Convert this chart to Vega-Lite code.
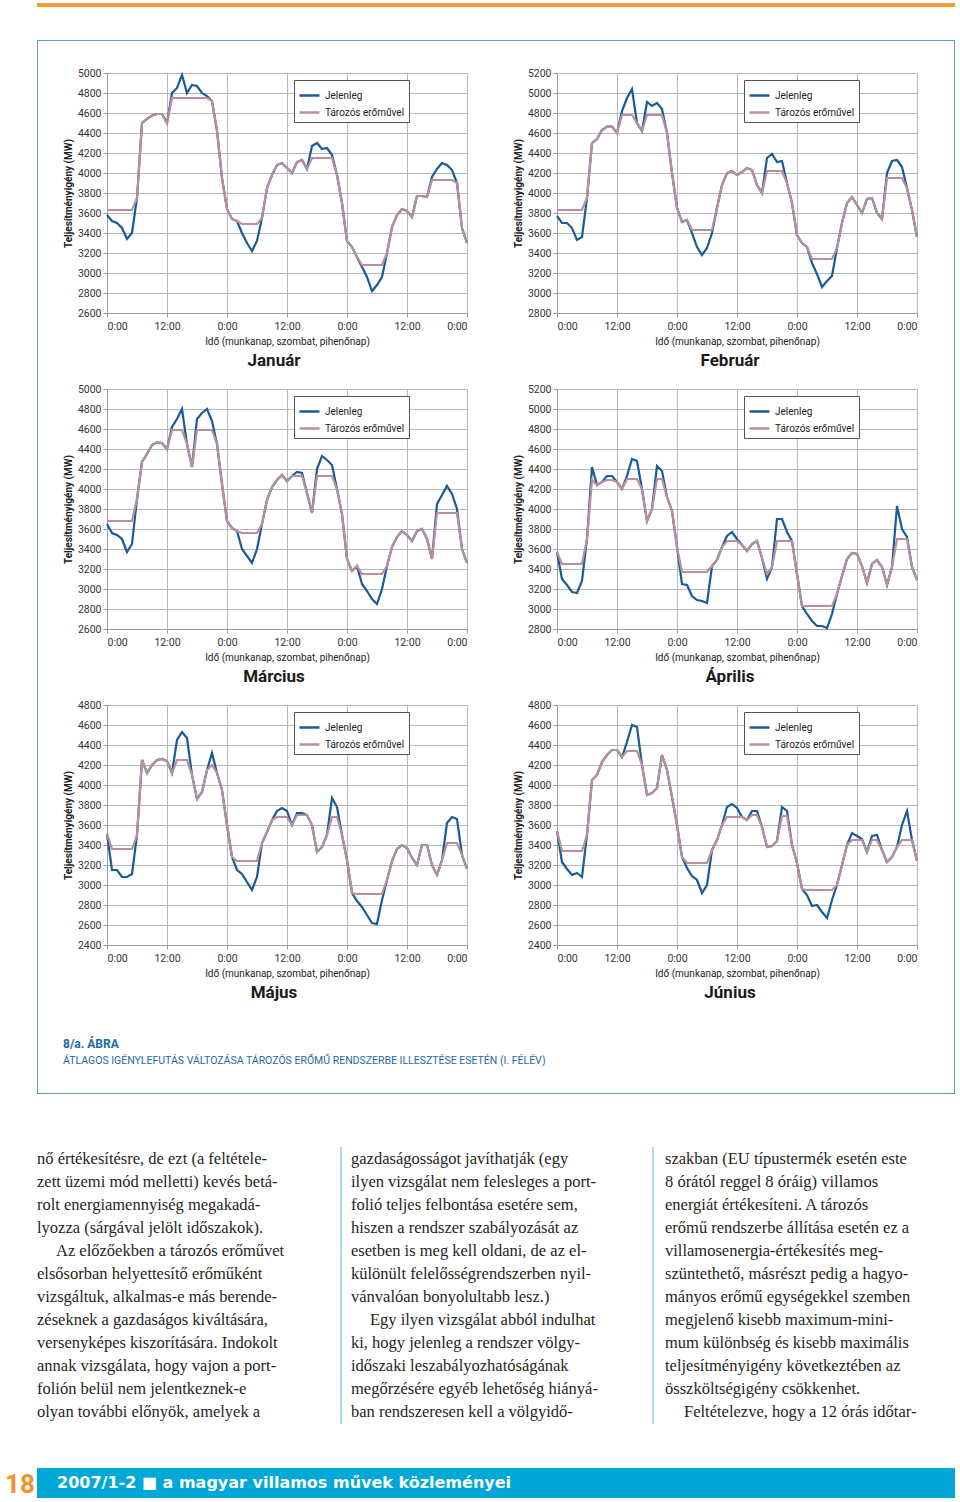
{
"$schema": "https://vega.github.io/schema/vega-lite/v6.json",
"padding": {"left": 5, "top": 3, "right": 0, "bottom": 0},
"background": "white",
"spacing": 0,
"config": {
 "view": {"stroke": null},
 "font": "Roboto",
 "axis": {"labelFontSize": 10.5, "labelColor": "#333333", "titleFontSize": 10, "titleColor": "#222222", "titleFontWeight": "normal", "gridColor": "#b8b8b8", "domainColor": "#9c9c9c", "tickColor": "#9c9c9c", "tickSize": 4},
 "axisX": {"labelPadding": 4.5, "titlePadding": 4},
 "axisY": {"labelPadding": 2, "titlePadding": 4, "titleFontWeight": "bold", "titleFontSize": 10, "format": "d"},
 "legend": {"orient": "none", "legendX": 187, "legendY": 7, "strokeColor": "#555555", "fillColor": "#ffffff", "padding": 4, "symbolSize": 400, "symbolStrokeWidth": 2.5, "labelFontSize": 10, "labelColor": "#222222", "rowPadding": 0},
 "title": {"font": "Roboto", "fontSize": 17, "fontWeight": "bold", "color": "#1a1a1a"}
},
"datasets": {
"load": [
{"m":"Jan","h":0,"j":3580,"t":3630},{"m":"Jan","h":1,"j":3520,"t":3630},{"m":"Jan","h":2,"j":3500,"t":3630},{"m":"Jan","h":3,"j":3450,"t":3630},{"m":"Jan","h":4,"j":3340,"t":3630},{"m":"Jan","h":5,"j":3400,"t":3630},{"m":"Jan","h":6,"j":3750,"t":3750},{"m":"Jan","h":7,"j":4500,"t":4500},{"m":"Jan","h":8,"j":4540,"t":4540},{"m":"Jan","h":9,"j":4575,"t":4575},{"m":"Jan","h":10,"j":4590,"t":4590},{"m":"Jan","h":11,"j":4590,"t":4590},{"m":"Jan","h":12,"j":4500,"t":4500},{"m":"Jan","h":13,"j":4800,"t":4750},{"m":"Jan","h":14,"j":4850,"t":4750},{"m":"Jan","h":15,"j":4980,"t":4750},{"m":"Jan","h":16,"j":4800,"t":4750},{"m":"Jan","h":17,"j":4880,"t":4750},{"m":"Jan","h":18,"j":4870,"t":4750},{"m":"Jan","h":19,"j":4800,"t":4750},{"m":"Jan","h":20,"j":4770,"t":4750},{"m":"Jan","h":21,"j":4720,"t":4720},{"m":"Jan","h":22,"j":4420,"t":4420},{"m":"Jan","h":23,"j":3950,"t":3950},{"m":"Jan","h":24,"j":3640,"t":3640},{"m":"Jan","h":25,"j":3540,"t":3540},{"m":"Jan","h":26,"j":3520,"t":3520},{"m":"Jan","h":27,"j":3400,"t":3490},{"m":"Jan","h":28,"j":3300,"t":3490},{"m":"Jan","h":29,"j":3220,"t":3490},{"m":"Jan","h":30,"j":3320,"t":3490},{"m":"Jan","h":31,"j":3550,"t":3550},{"m":"Jan","h":32,"j":3850,"t":3850},{"m":"Jan","h":33,"j":3980,"t":3980},{"m":"Jan","h":34,"j":4080,"t":4080},{"m":"Jan","h":35,"j":4100,"t":4100},{"m":"Jan","h":36,"j":4050,"t":4050},{"m":"Jan","h":37,"j":4000,"t":4000},{"m":"Jan","h":38,"j":4110,"t":4110},{"m":"Jan","h":39,"j":4130,"t":4130},{"m":"Jan","h":40,"j":4040,"t":4040},{"m":"Jan","h":41,"j":4270,"t":4150},{"m":"Jan","h":42,"j":4300,"t":4150},{"m":"Jan","h":43,"j":4240,"t":4150},{"m":"Jan","h":44,"j":4250,"t":4150},{"m":"Jan","h":45,"j":4180,"t":4150},{"m":"Jan","h":46,"j":3980,"t":3980},{"m":"Jan","h":47,"j":3700,"t":3700},{"m":"Jan","h":48,"j":3320,"t":3320},{"m":"Jan","h":49,"j":3260,"t":3260},{"m":"Jan","h":50,"j":3160,"t":3160},{"m":"Jan","h":51,"j":3060,"t":3080},{"m":"Jan","h":52,"j":2960,"t":3080},{"m":"Jan","h":53,"j":2820,"t":3080},{"m":"Jan","h":54,"j":2880,"t":3080},{"m":"Jan","h":55,"j":2960,"t":3080},{"m":"Jan","h":56,"j":3200,"t":3200},{"m":"Jan","h":57,"j":3460,"t":3460},{"m":"Jan","h":58,"j":3580,"t":3580},{"m":"Jan","h":59,"j":3640,"t":3640},{"m":"Jan","h":60,"j":3620,"t":3620},{"m":"Jan","h":61,"j":3560,"t":3560},{"m":"Jan","h":62,"j":3770,"t":3770},{"m":"Jan","h":63,"j":3770,"t":3770},{"m":"Jan","h":64,"j":3760,"t":3760},{"m":"Jan","h":65,"j":3960,"t":3930},{"m":"Jan","h":66,"j":4040,"t":3930},{"m":"Jan","h":67,"j":4100,"t":3930},{"m":"Jan","h":68,"j":4080,"t":3930},{"m":"Jan","h":69,"j":4030,"t":3930},{"m":"Jan","h":70,"j":3900,"t":3900},{"m":"Jan","h":71,"j":3450,"t":3450},{"m":"Jan","h":72,"j":3300,"t":3300},
{"m":"Feb","h":0,"j":3770,"t":3830},{"m":"Feb","h":1,"j":3700,"t":3830},{"m":"Feb","h":2,"j":3700,"t":3830},{"m":"Feb","h":3,"j":3650,"t":3830},{"m":"Feb","h":4,"j":3530,"t":3830},{"m":"Feb","h":5,"j":3560,"t":3830},{"m":"Feb","h":6,"j":3950,"t":3950},{"m":"Feb","h":7,"j":4500,"t":4500},{"m":"Feb","h":8,"j":4540,"t":4540},{"m":"Feb","h":9,"j":4630,"t":4630},{"m":"Feb","h":10,"j":4665,"t":4665},{"m":"Feb","h":11,"j":4665,"t":4665},{"m":"Feb","h":12,"j":4600,"t":4600},{"m":"Feb","h":13,"j":4820,"t":4780},{"m":"Feb","h":14,"j":4950,"t":4780},{"m":"Feb","h":15,"j":5040,"t":4780},{"m":"Feb","h":16,"j":4700,"t":4700},{"m":"Feb","h":17,"j":4620,"t":4620},{"m":"Feb","h":18,"j":4910,"t":4780},{"m":"Feb","h":19,"j":4870,"t":4780},{"m":"Feb","h":20,"j":4900,"t":4780},{"m":"Feb","h":21,"j":4840,"t":4780},{"m":"Feb","h":22,"j":4600,"t":4600},{"m":"Feb","h":23,"j":4200,"t":4200},{"m":"Feb","h":24,"j":3850,"t":3850},{"m":"Feb","h":25,"j":3710,"t":3710},{"m":"Feb","h":26,"j":3730,"t":3730},{"m":"Feb","h":27,"j":3600,"t":3630},{"m":"Feb","h":28,"j":3460,"t":3630},{"m":"Feb","h":29,"j":3380,"t":3630},{"m":"Feb","h":30,"j":3450,"t":3630},{"m":"Feb","h":31,"j":3600,"t":3630},{"m":"Feb","h":32,"j":3850,"t":3850},{"m":"Feb","h":33,"j":4080,"t":4080},{"m":"Feb","h":34,"j":4200,"t":4200},{"m":"Feb","h":35,"j":4220,"t":4220},{"m":"Feb","h":36,"j":4180,"t":4180},{"m":"Feb","h":37,"j":4210,"t":4210},{"m":"Feb","h":38,"j":4250,"t":4250},{"m":"Feb","h":39,"j":4230,"t":4230},{"m":"Feb","h":40,"j":4080,"t":4080},{"m":"Feb","h":41,"j":4000,"t":4000},{"m":"Feb","h":42,"j":4350,"t":4220},{"m":"Feb","h":43,"j":4390,"t":4220},{"m":"Feb","h":44,"j":4310,"t":4220},{"m":"Feb","h":45,"j":4320,"t":4220},{"m":"Feb","h":46,"j":4100,"t":4100},{"m":"Feb","h":47,"j":3900,"t":3900},{"m":"Feb","h":48,"j":3580,"t":3580},{"m":"Feb","h":49,"j":3500,"t":3500},{"m":"Feb","h":50,"j":3460,"t":3460},{"m":"Feb","h":51,"j":3300,"t":3340},{"m":"Feb","h":52,"j":3190,"t":3340},{"m":"Feb","h":53,"j":3060,"t":3340},{"m":"Feb","h":54,"j":3120,"t":3340},{"m":"Feb","h":55,"j":3170,"t":3340},{"m":"Feb","h":56,"j":3450,"t":3450},{"m":"Feb","h":57,"j":3700,"t":3700},{"m":"Feb","h":58,"j":3900,"t":3900},{"m":"Feb","h":59,"j":3960,"t":3960},{"m":"Feb","h":60,"j":3880,"t":3880},{"m":"Feb","h":61,"j":3800,"t":3800},{"m":"Feb","h":62,"j":3940,"t":3940},{"m":"Feb","h":63,"j":3950,"t":3950},{"m":"Feb","h":64,"j":3800,"t":3800},{"m":"Feb","h":65,"j":3740,"t":3740},{"m":"Feb","h":66,"j":4200,"t":4150},{"m":"Feb","h":67,"j":4320,"t":4150},{"m":"Feb","h":68,"j":4330,"t":4150},{"m":"Feb","h":69,"j":4260,"t":4150},{"m":"Feb","h":70,"j":4050,"t":4050},{"m":"Feb","h":71,"j":3830,"t":3830},{"m":"Feb","h":72,"j":3560,"t":3560},
{"m":"Mar","h":0,"j":3650,"t":3680},{"m":"Mar","h":1,"j":3560,"t":3680},{"m":"Mar","h":2,"j":3540,"t":3680},{"m":"Mar","h":3,"j":3500,"t":3680},{"m":"Mar","h":4,"j":3370,"t":3680},{"m":"Mar","h":5,"j":3450,"t":3680},{"m":"Mar","h":6,"j":3900,"t":3900},{"m":"Mar","h":7,"j":4270,"t":4270},{"m":"Mar","h":8,"j":4350,"t":4350},{"m":"Mar","h":9,"j":4440,"t":4440},{"m":"Mar","h":10,"j":4465,"t":4465},{"m":"Mar","h":11,"j":4460,"t":4460},{"m":"Mar","h":12,"j":4400,"t":4400},{"m":"Mar","h":13,"j":4620,"t":4590},{"m":"Mar","h":14,"j":4700,"t":4590},{"m":"Mar","h":15,"j":4800,"t":4590},{"m":"Mar","h":16,"j":4450,"t":4450},{"m":"Mar","h":17,"j":4220,"t":4220},{"m":"Mar","h":18,"j":4700,"t":4590},{"m":"Mar","h":19,"j":4760,"t":4590},{"m":"Mar","h":20,"j":4800,"t":4590},{"m":"Mar","h":21,"j":4680,"t":4590},{"m":"Mar","h":22,"j":4450,"t":4450},{"m":"Mar","h":23,"j":4050,"t":4050},{"m":"Mar","h":24,"j":3680,"t":3680},{"m":"Mar","h":25,"j":3610,"t":3610},{"m":"Mar","h":26,"j":3580,"t":3580},{"m":"Mar","h":27,"j":3400,"t":3560},{"m":"Mar","h":28,"j":3330,"t":3560},{"m":"Mar","h":29,"j":3260,"t":3560},{"m":"Mar","h":30,"j":3400,"t":3560},{"m":"Mar","h":31,"j":3650,"t":3650},{"m":"Mar","h":32,"j":3890,"t":3890},{"m":"Mar","h":33,"j":4020,"t":4020},{"m":"Mar","h":34,"j":4090,"t":4090},{"m":"Mar","h":35,"j":4140,"t":4140},{"m":"Mar","h":36,"j":4080,"t":4080},{"m":"Mar","h":37,"j":4130,"t":4130},{"m":"Mar","h":38,"j":4170,"t":4130},{"m":"Mar","h":39,"j":4160,"t":4130},{"m":"Mar","h":40,"j":3960,"t":3960},{"m":"Mar","h":41,"j":3760,"t":3760},{"m":"Mar","h":42,"j":4200,"t":4130},{"m":"Mar","h":43,"j":4330,"t":4130},{"m":"Mar","h":44,"j":4290,"t":4130},{"m":"Mar","h":45,"j":4240,"t":4130},{"m":"Mar","h":46,"j":4000,"t":4000},{"m":"Mar","h":47,"j":3750,"t":3750},{"m":"Mar","h":48,"j":3300,"t":3300},{"m":"Mar","h":49,"j":3180,"t":3180},{"m":"Mar","h":50,"j":3230,"t":3230},{"m":"Mar","h":51,"j":3050,"t":3150},{"m":"Mar","h":52,"j":2980,"t":3150},{"m":"Mar","h":53,"j":2900,"t":3150},{"m":"Mar","h":54,"j":2850,"t":3150},{"m":"Mar","h":55,"j":3000,"t":3150},{"m":"Mar","h":56,"j":3230,"t":3230},{"m":"Mar","h":57,"j":3420,"t":3420},{"m":"Mar","h":58,"j":3520,"t":3520},{"m":"Mar","h":59,"j":3580,"t":3580},{"m":"Mar","h":60,"j":3540,"t":3540},{"m":"Mar","h":61,"j":3480,"t":3480},{"m":"Mar","h":62,"j":3580,"t":3580},{"m":"Mar","h":63,"j":3600,"t":3600},{"m":"Mar","h":64,"j":3500,"t":3500},{"m":"Mar","h":65,"j":3300,"t":3300},{"m":"Mar","h":66,"j":3850,"t":3760},{"m":"Mar","h":67,"j":3940,"t":3760},{"m":"Mar","h":68,"j":4030,"t":3760},{"m":"Mar","h":69,"j":3950,"t":3760},{"m":"Mar","h":70,"j":3800,"t":3760},{"m":"Mar","h":71,"j":3400,"t":3400},{"m":"Mar","h":72,"j":3260,"t":3260},
{"m":"Apr","h":0,"j":3570,"t":3570},{"m":"Apr","h":1,"j":3300,"t":3450},{"m":"Apr","h":2,"j":3240,"t":3450},{"m":"Apr","h":3,"j":3170,"t":3450},{"m":"Apr","h":4,"j":3160,"t":3450},{"m":"Apr","h":5,"j":3280,"t":3450},{"m":"Apr","h":6,"j":3700,"t":3700},{"m":"Apr","h":7,"j":4420,"t":4290},{"m":"Apr","h":8,"j":4240,"t":4240},{"m":"Apr","h":9,"j":4270,"t":4270},{"m":"Apr","h":10,"j":4330,"t":4290},{"m":"Apr","h":11,"j":4330,"t":4290},{"m":"Apr","h":12,"j":4270,"t":4270},{"m":"Apr","h":13,"j":4200,"t":4200},{"m":"Apr","h":14,"j":4330,"t":4300},{"m":"Apr","h":15,"j":4500,"t":4300},{"m":"Apr","h":16,"j":4480,"t":4300},{"m":"Apr","h":17,"j":4200,"t":4200},{"m":"Apr","h":18,"j":3880,"t":3880},{"m":"Apr","h":19,"j":4000,"t":4000},{"m":"Apr","h":20,"j":4430,"t":4300},{"m":"Apr","h":21,"j":4380,"t":4300},{"m":"Apr","h":22,"j":4120,"t":4120},{"m":"Apr","h":23,"j":3980,"t":3980},{"m":"Apr","h":24,"j":3620,"t":3620},{"m":"Apr","h":25,"j":3250,"t":3370},{"m":"Apr","h":26,"j":3240,"t":3370},{"m":"Apr","h":27,"j":3130,"t":3370},{"m":"Apr","h":28,"j":3090,"t":3370},{"m":"Apr","h":29,"j":3080,"t":3370},{"m":"Apr","h":30,"j":3060,"t":3370},{"m":"Apr","h":31,"j":3430,"t":3430},{"m":"Apr","h":32,"j":3490,"t":3490},{"m":"Apr","h":33,"j":3620,"t":3620},{"m":"Apr","h":34,"j":3730,"t":3680},{"m":"Apr","h":35,"j":3770,"t":3680},{"m":"Apr","h":36,"j":3700,"t":3680},{"m":"Apr","h":37,"j":3640,"t":3640},{"m":"Apr","h":38,"j":3580,"t":3580},{"m":"Apr","h":39,"j":3650,"t":3650},{"m":"Apr","h":40,"j":3680,"t":3680},{"m":"Apr","h":41,"j":3510,"t":3510},{"m":"Apr","h":42,"j":3300,"t":3350},{"m":"Apr","h":43,"j":3420,"t":3420},{"m":"Apr","h":44,"j":3900,"t":3680},{"m":"Apr","h":45,"j":3900,"t":3680},{"m":"Apr","h":46,"j":3770,"t":3680},{"m":"Apr","h":47,"j":3680,"t":3680},{"m":"Apr","h":48,"j":3350,"t":3350},{"m":"Apr","h":49,"j":3030,"t":3030},{"m":"Apr","h":50,"j":2950,"t":3030},{"m":"Apr","h":51,"j":2880,"t":3030},{"m":"Apr","h":52,"j":2830,"t":3030},{"m":"Apr","h":53,"j":2830,"t":3030},{"m":"Apr","h":54,"j":2810,"t":3030},{"m":"Apr","h":55,"j":2950,"t":3030},{"m":"Apr","h":56,"j":3150,"t":3150},{"m":"Apr","h":57,"j":3330,"t":3330},{"m":"Apr","h":58,"j":3500,"t":3500},{"m":"Apr","h":59,"j":3560,"t":3560},{"m":"Apr","h":60,"j":3550,"t":3550},{"m":"Apr","h":61,"j":3430,"t":3430},{"m":"Apr","h":62,"j":3260,"t":3260},{"m":"Apr","h":63,"j":3450,"t":3450},{"m":"Apr","h":64,"j":3490,"t":3490},{"m":"Apr","h":65,"j":3420,"t":3420},{"m":"Apr","h":66,"j":3240,"t":3240},{"m":"Apr","h":67,"j":3420,"t":3420},{"m":"Apr","h":68,"j":4030,"t":3700},{"m":"Apr","h":69,"j":3800,"t":3700},{"m":"Apr","h":70,"j":3720,"t":3700},{"m":"Apr","h":71,"j":3420,"t":3420},{"m":"Apr","h":72,"j":3290,"t":3290},
{"m":"May","h":0,"j":3510,"t":3510},{"m":"May","h":1,"j":3150,"t":3360},{"m":"May","h":2,"j":3150,"t":3360},{"m":"May","h":3,"j":3080,"t":3360},{"m":"May","h":4,"j":3080,"t":3360},{"m":"May","h":5,"j":3110,"t":3360},{"m":"May","h":6,"j":3500,"t":3500},{"m":"May","h":7,"j":4250,"t":4250},{"m":"May","h":8,"j":4120,"t":4120},{"m":"May","h":9,"j":4200,"t":4200},{"m":"May","h":10,"j":4250,"t":4250},{"m":"May","h":11,"j":4260,"t":4260},{"m":"May","h":12,"j":4240,"t":4240},{"m":"May","h":13,"j":4120,"t":4120},{"m":"May","h":14,"j":4450,"t":4250},{"m":"May","h":15,"j":4530,"t":4250},{"m":"May","h":16,"j":4470,"t":4250},{"m":"May","h":17,"j":4100,"t":4100},{"m":"May","h":18,"j":3860,"t":3860},{"m":"May","h":19,"j":3930,"t":3930},{"m":"May","h":20,"j":4150,"t":4150},{"m":"May","h":21,"j":4320,"t":4200},{"m":"May","h":22,"j":4120,"t":4120},{"m":"May","h":23,"j":3950,"t":3950},{"m":"May","h":24,"j":3600,"t":3600},{"m":"May","h":25,"j":3280,"t":3280},{"m":"May","h":26,"j":3150,"t":3240},{"m":"May","h":27,"j":3110,"t":3240},{"m":"May","h":28,"j":3030,"t":3240},{"m":"May","h":29,"j":2950,"t":3240},{"m":"May","h":30,"j":3080,"t":3240},{"m":"May","h":31,"j":3420,"t":3420},{"m":"May","h":32,"j":3530,"t":3530},{"m":"May","h":33,"j":3650,"t":3650},{"m":"May","h":34,"j":3740,"t":3680},{"m":"May","h":35,"j":3770,"t":3680},{"m":"May","h":36,"j":3740,"t":3680},{"m":"May","h":37,"j":3600,"t":3600},{"m":"May","h":38,"j":3720,"t":3700},{"m":"May","h":39,"j":3720,"t":3700},{"m":"May","h":40,"j":3700,"t":3700},{"m":"May","h":41,"j":3600,"t":3600},{"m":"May","h":42,"j":3330,"t":3330},{"m":"May","h":43,"j":3380,"t":3380},{"m":"May","h":44,"j":3500,"t":3500},{"m":"May","h":45,"j":3870,"t":3680},{"m":"May","h":46,"j":3780,"t":3680},{"m":"May","h":47,"j":3500,"t":3500},{"m":"May","h":48,"j":3250,"t":3250},{"m":"May","h":49,"j":2920,"t":2920},{"m":"May","h":50,"j":2840,"t":2910},{"m":"May","h":51,"j":2780,"t":2910},{"m":"May","h":52,"j":2700,"t":2910},{"m":"May","h":53,"j":2620,"t":2910},{"m":"May","h":54,"j":2610,"t":2910},{"m":"May","h":55,"j":2850,"t":2910},{"m":"May","h":56,"j":3050,"t":3050},{"m":"May","h":57,"j":3240,"t":3240},{"m":"May","h":58,"j":3360,"t":3360},{"m":"May","h":59,"j":3400,"t":3400},{"m":"May","h":60,"j":3370,"t":3370},{"m":"May","h":61,"j":3270,"t":3270},{"m":"May","h":62,"j":3200,"t":3200},{"m":"May","h":63,"j":3400,"t":3400},{"m":"May","h":64,"j":3400,"t":3400},{"m":"May","h":65,"j":3200,"t":3200},{"m":"May","h":66,"j":3100,"t":3100},{"m":"May","h":67,"j":3250,"t":3250},{"m":"May","h":68,"j":3620,"t":3420},{"m":"May","h":69,"j":3680,"t":3420},{"m":"May","h":70,"j":3660,"t":3420},{"m":"May","h":71,"j":3300,"t":3300},{"m":"May","h":72,"j":3160,"t":3160},
{"m":"Jun","h":0,"j":3540,"t":3540},{"m":"Jun","h":1,"j":3230,"t":3340},{"m":"Jun","h":2,"j":3160,"t":3340},{"m":"Jun","h":3,"j":3100,"t":3340},{"m":"Jun","h":4,"j":3120,"t":3340},{"m":"Jun","h":5,"j":3080,"t":3340},{"m":"Jun","h":6,"j":3500,"t":3500},{"m":"Jun","h":7,"j":4050,"t":4050},{"m":"Jun","h":8,"j":4100,"t":4100},{"m":"Jun","h":9,"j":4230,"t":4230},{"m":"Jun","h":10,"j":4300,"t":4300},{"m":"Jun","h":11,"j":4350,"t":4350},{"m":"Jun","h":12,"j":4350,"t":4350},{"m":"Jun","h":13,"j":4280,"t":4280},{"m":"Jun","h":14,"j":4430,"t":4340},{"m":"Jun","h":15,"j":4600,"t":4340},{"m":"Jun","h":16,"j":4580,"t":4340},{"m":"Jun","h":17,"j":4200,"t":4200},{"m":"Jun","h":18,"j":3900,"t":3900},{"m":"Jun","h":19,"j":3920,"t":3920},{"m":"Jun","h":20,"j":3970,"t":3970},{"m":"Jun","h":21,"j":4300,"t":4300},{"m":"Jun","h":22,"j":4150,"t":4150},{"m":"Jun","h":23,"j":3880,"t":3880},{"m":"Jun","h":24,"j":3600,"t":3600},{"m":"Jun","h":25,"j":3280,"t":3280},{"m":"Jun","h":26,"j":3170,"t":3220},{"m":"Jun","h":27,"j":3090,"t":3220},{"m":"Jun","h":28,"j":3050,"t":3220},{"m":"Jun","h":29,"j":2920,"t":3220},{"m":"Jun","h":30,"j":3000,"t":3220},{"m":"Jun","h":31,"j":3350,"t":3350},{"m":"Jun","h":32,"j":3450,"t":3450},{"m":"Jun","h":33,"j":3600,"t":3600},{"m":"Jun","h":34,"j":3780,"t":3680},{"m":"Jun","h":35,"j":3810,"t":3680},{"m":"Jun","h":36,"j":3770,"t":3680},{"m":"Jun","h":37,"j":3680,"t":3680},{"m":"Jun","h":38,"j":3650,"t":3650},{"m":"Jun","h":39,"j":3740,"t":3700},{"m":"Jun","h":40,"j":3740,"t":3700},{"m":"Jun","h":41,"j":3580,"t":3580},{"m":"Jun","h":42,"j":3380,"t":3380},{"m":"Jun","h":43,"j":3390,"t":3390},{"m":"Jun","h":44,"j":3440,"t":3440},{"m":"Jun","h":45,"j":3780,"t":3690},{"m":"Jun","h":46,"j":3740,"t":3690},{"m":"Jun","h":47,"j":3400,"t":3400},{"m":"Jun","h":48,"j":3220,"t":3220},{"m":"Jun","h":49,"j":2960,"t":2960},{"m":"Jun","h":50,"j":2900,"t":2950},{"m":"Jun","h":51,"j":2790,"t":2950},{"m":"Jun","h":52,"j":2800,"t":2950},{"m":"Jun","h":53,"j":2730,"t":2950},{"m":"Jun","h":54,"j":2670,"t":2950},{"m":"Jun","h":55,"j":2850,"t":2950},{"m":"Jun","h":56,"j":3000,"t":3000},{"m":"Jun","h":57,"j":3200,"t":3200},{"m":"Jun","h":58,"j":3400,"t":3400},{"m":"Jun","h":59,"j":3520,"t":3450},{"m":"Jun","h":60,"j":3490,"t":3450},{"m":"Jun","h":61,"j":3460,"t":3450},{"m":"Jun","h":62,"j":3330,"t":3330},{"m":"Jun","h":63,"j":3490,"t":3450},{"m":"Jun","h":64,"j":3500,"t":3450},{"m":"Jun","h":65,"j":3350,"t":3350},{"m":"Jun","h":66,"j":3230,"t":3230},{"m":"Jun","h":67,"j":3280,"t":3280},{"m":"Jun","h":68,"j":3380,"t":3380},{"m":"Jun","h":69,"j":3600,"t":3450},{"m":"Jun","h":70,"j":3740,"t":3450},{"m":"Jun","h":71,"j":3450,"t":3450},{"m":"Jun","h":72,"j":3240,"t":3240}
],
"body": [
{"c":1,"i":0,"p":0,"s":"nő értékesítésre, de ezt (a feltétele-"},
{"c":1,"i":1,"p":0,"s":"zett üzemi mód melletti) kevés betá-"},
{"c":1,"i":2,"p":0,"s":"rolt energiamennyiség megakadá-"},
{"c":1,"i":3,"p":0,"s":"lyozza (sárgával jelölt időszakok)."},
{"c":1,"i":4,"p":1,"s":"Az előzőekben a tározós erőművet"},
{"c":1,"i":5,"p":0,"s":"elsősorban helyettesítő erőműként"},
{"c":1,"i":6,"p":0,"s":"vizsgáltuk, alkalmas-e más berende-"},
{"c":1,"i":7,"p":0,"s":"zéseknek a gazdaságos kiváltására,"},
{"c":1,"i":8,"p":0,"s":"versenyképes kiszorítására. Indokolt"},
{"c":1,"i":9,"p":0,"s":"annak vizsgálata, hogy vajon a port-"},
{"c":1,"i":10,"p":0,"s":"folión belül nem jelentkeznek-e"},
{"c":1,"i":11,"p":0,"s":"olyan további előnyök, amelyek a"},
{"c":2,"i":0,"p":0,"s":"gazdaságosságot javíthatják (egy"},
{"c":2,"i":1,"p":0,"s":"ilyen vizsgálat nem felesleges a port-"},
{"c":2,"i":2,"p":0,"s":"folió teljes felbontása esetére sem,"},
{"c":2,"i":3,"p":0,"s":"hiszen a rendszer szabályozását az"},
{"c":2,"i":4,"p":0,"s":"esetben is meg kell oldani, de az el-"},
{"c":2,"i":5,"p":0,"s":"különült felelősségrendszerben nyil-"},
{"c":2,"i":6,"p":0,"s":"vánvalóan bonyolultabb lesz.)"},
{"c":2,"i":7,"p":1,"s":"Egy ilyen vizsgálat abból indulhat"},
{"c":2,"i":8,"p":0,"s":"ki, hogy jelenleg a rendszer völgy-"},
{"c":2,"i":9,"p":0,"s":"időszaki leszabályozhatóságának"},
{"c":2,"i":10,"p":0,"s":"megőrzésére egyéb lehetőség hiányá-"},
{"c":2,"i":11,"p":0,"s":"ban rendszeresen kell a völgyidő-"},
{"c":3,"i":0,"p":0,"s":"szakban (EU típustermék esetén este"},
{"c":3,"i":1,"p":0,"s":"8 órától reggel 8 óráig) villamos"},
{"c":3,"i":2,"p":0,"s":"energiát értékesíteni. A tározós"},
{"c":3,"i":3,"p":0,"s":"erőmű rendszerbe állítása esetén ez a"},
{"c":3,"i":4,"p":0,"s":"villamosenergia-értékesítés meg-"},
{"c":3,"i":5,"p":0,"s":"szüntethető, másrészt pedig a hagyo-"},
{"c":3,"i":6,"p":0,"s":"mányos erőmű egységekkel szemben"},
{"c":3,"i":7,"p":0,"s":"megjelenő kisebb maximum-mini-"},
{"c":3,"i":8,"p":0,"s":"mum különbség és kisebb maximális"},
{"c":3,"i":9,"p":0,"s":"teljesítményigény következtében az"},
{"c":3,"i":10,"p":0,"s":"összköltségigény csökkenhet."},
{"c":3,"i":11,"p":1,"s":"Feltételezve, hogy a 12 órás időtar-"}
]
},
"vconcat": [
 {"hconcat": [
   {"width": 32, "height": 4, "data": {"values": [{}]}, "mark": {"type": "rect", "opacity": 0}},
   {"width": 918, "height": 4, "data": {"values": [{}]}, "mark": {"type": "rect", "color": "#f39a36"}}
  ], "spacing": 0},
 {"width": 1, "height": 33, "data": {"values": [{}]}, "mark": {"type": "rect", "opacity": 0}},
 {"hconcat": [
   {"width": 32, "height": 1, "data": {"values": [{}]}, "mark": {"type": "rect", "opacity": 0}},
   {"width": 918, "height": 1, "data": {"values": [{}]}, "mark": {"type": "rect", "color": "#5f9cb5"}}
  ], "spacing": 0},
 {"hconcat": [
   {"width": 32, "height": 1, "data": {"values": [{}]}, "mark": {"type": "rect", "opacity": 0}},
   {"width": 1, "height": 1052, "data": {"values": [{}]}, "mark": {"type": "rect", "color": "#5f9cb5"}},
   {"vconcat": [
     {"width": 916, "height": 26.5, "data": {"values": [{}]}, "mark": {"type": "rect", "opacity": 0}},
     {"hconcat": [
       {"width": 24.5, "height": 1, "data": {"values": [{}]}, "mark": {"type": "rect", "opacity": 0}},
       {"columns": 2, "spacing": {"row": 76, "column": 90}, "bounds": "flush",
        "resolve": {"scale": {"color": "independent"}, "legend": {"color": "independent"}},
        "concat": [
         {"width": 360, "height": 240, "data": {"name": "load"}, "transform": [{"filter": "datum.m == 'Jan'"}],
          "title": {"text": "Január", "orient": "bottom", "offset": 6.5, "dx": -13},
          "encoding": {"x": {"field": "h", "type": "quantitative", "title": "Idő (munkanap, szombat, pihenőnap)", "scale": {"domain": [0, 72], "nice": false}, "axis": {"values": [0, 12, 24, 36, 48, 60, 72], "labelExpr": "datum.value % 24 == 0 ? '0:00' : '12:00'"}}},
          "layer": [
           {"mark": {"type": "line", "strokeWidth": 2.2}, "encoding": {"y": {"field": "j", "type": "quantitative", "title": "Teljesítményigény (MW)", "scale": {"domain": [2600, 5000], "nice": false, "zero": false}, "axis": {"tickCount": 12}}, "color": {"datum": "Jelenleg", "type": "nominal", "scale": {"domain": ["Jelenleg", "Tározós erőművel"], "range": ["#185b97", "#b98fa0"]}, "legend": {"title": null}}}},
           {"mark": {"type": "line", "strokeWidth": 2.2}, "encoding": {"y": {"field": "t", "type": "quantitative", "title": "Teljesítményigény (MW)"}, "color": {"datum": "Tározós erőművel", "type": "nominal"}}}
          ]},
         {"width": 360, "height": 240, "data": {"name": "load"}, "transform": [{"filter": "datum.m == 'Feb'"}],
          "title": {"text": "Február", "orient": "bottom", "offset": 6.5, "dx": -7},
          "encoding": {"x": {"field": "h", "type": "quantitative", "title": "Idő (munkanap, szombat, pihenőnap)", "scale": {"domain": [0, 72], "nice": false}, "axis": {"values": [0, 12, 24, 36, 48, 60, 72], "labelExpr": "datum.value % 24 == 0 ? '0:00' : '12:00'"}}},
          "layer": [
           {"mark": {"type": "line", "strokeWidth": 2.2}, "encoding": {"y": {"field": "j", "type": "quantitative", "title": "Teljesítményigény (MW)", "scale": {"domain": [2800, 5200], "nice": false, "zero": false}, "axis": {"tickCount": 12}}, "color": {"datum": "Jelenleg", "type": "nominal", "scale": {"domain": ["Jelenleg", "Tározós erőművel"], "range": ["#185b97", "#b98fa0"]}, "legend": {"title": null}}}},
           {"mark": {"type": "line", "strokeWidth": 2.2}, "encoding": {"y": {"field": "t", "type": "quantitative", "title": "Teljesítményigény (MW)"}, "color": {"datum": "Tározós erőművel", "type": "nominal"}}}
          ]},
         {"width": 360, "height": 240, "data": {"name": "load"}, "transform": [{"filter": "datum.m == 'Mar'"}],
          "title": {"text": "Március", "orient": "bottom", "offset": 6.5, "dx": -13},
          "encoding": {"x": {"field": "h", "type": "quantitative", "title": "Idő (munkanap, szombat, pihenőnap)", "scale": {"domain": [0, 72], "nice": false}, "axis": {"values": [0, 12, 24, 36, 48, 60, 72], "labelExpr": "datum.value % 24 == 0 ? '0:00' : '12:00'"}}},
          "layer": [
           {"mark": {"type": "line", "strokeWidth": 2.2}, "encoding": {"y": {"field": "j", "type": "quantitative", "title": "Teljesítményigény (MW)", "scale": {"domain": [2600, 5000], "nice": false, "zero": false}, "axis": {"tickCount": 12}}, "color": {"datum": "Jelenleg", "type": "nominal", "scale": {"domain": ["Jelenleg", "Tározós erőművel"], "range": ["#185b97", "#b98fa0"]}, "legend": {"title": null}}}},
           {"mark": {"type": "line", "strokeWidth": 2.2}, "encoding": {"y": {"field": "t", "type": "quantitative", "title": "Teljesítményigény (MW)"}, "color": {"datum": "Tározós erőművel", "type": "nominal"}}}
          ]},
         {"width": 360, "height": 240, "data": {"name": "load"}, "transform": [{"filter": "datum.m == 'Apr'"}],
          "title": {"text": "Április", "orient": "bottom", "offset": 6.5, "dx": -7},
          "encoding": {"x": {"field": "h", "type": "quantitative", "title": "Idő (munkanap, szombat, pihenőnap)", "scale": {"domain": [0, 72], "nice": false}, "axis": {"values": [0, 12, 24, 36, 48, 60, 72], "labelExpr": "datum.value % 24 == 0 ? '0:00' : '12:00'"}}},
          "layer": [
           {"mark": {"type": "line", "strokeWidth": 2.2}, "encoding": {"y": {"field": "j", "type": "quantitative", "title": "Teljesítményigény (MW)", "scale": {"domain": [2800, 5200], "nice": false, "zero": false}, "axis": {"tickCount": 12}}, "color": {"datum": "Jelenleg", "type": "nominal", "scale": {"domain": ["Jelenleg", "Tározós erőművel"], "range": ["#185b97", "#b98fa0"]}, "legend": {"title": null}}}},
           {"mark": {"type": "line", "strokeWidth": 2.2}, "encoding": {"y": {"field": "t", "type": "quantitative", "title": "Teljesítményigény (MW)"}, "color": {"datum": "Tározós erőművel", "type": "nominal"}}}
          ]},
         {"width": 360, "height": 240, "data": {"name": "load"}, "transform": [{"filter": "datum.m == 'May'"}],
          "title": {"text": "Május", "orient": "bottom", "offset": 6.5, "dx": -13},
          "encoding": {"x": {"field": "h", "type": "quantitative", "title": "Idő (munkanap, szombat, pihenőnap)", "scale": {"domain": [0, 72], "nice": false}, "axis": {"values": [0, 12, 24, 36, 48, 60, 72], "labelExpr": "datum.value % 24 == 0 ? '0:00' : '12:00'"}}},
          "layer": [
           {"mark": {"type": "line", "strokeWidth": 2.2}, "encoding": {"y": {"field": "j", "type": "quantitative", "title": "Teljesítményigény (MW)", "scale": {"domain": [2400, 4800], "nice": false, "zero": false}, "axis": {"tickCount": 12}}, "color": {"datum": "Jelenleg", "type": "nominal", "scale": {"domain": ["Jelenleg", "Tározós erőművel"], "range": ["#185b97", "#b98fa0"]}, "legend": {"title": null}}}},
           {"mark": {"type": "line", "strokeWidth": 2.2}, "encoding": {"y": {"field": "t", "type": "quantitative", "title": "Teljesítményigény (MW)"}, "color": {"datum": "Tározós erőművel", "type": "nominal"}}}
          ]},
         {"width": 360, "height": 240, "data": {"name": "load"}, "transform": [{"filter": "datum.m == 'Jun'"}],
          "title": {"text": "Június", "orient": "bottom", "offset": 6.5, "dx": -7},
          "encoding": {"x": {"field": "h", "type": "quantitative", "title": "Idő (munkanap, szombat, pihenőnap)", "scale": {"domain": [0, 72], "nice": false}, "axis": {"values": [0, 12, 24, 36, 48, 60, 72], "labelExpr": "datum.value % 24 == 0 ? '0:00' : '12:00'"}}},
          "layer": [
           {"mark": {"type": "line", "strokeWidth": 2.2}, "encoding": {"y": {"field": "j", "type": "quantitative", "title": "Teljesítményigény (MW)", "scale": {"domain": [2400, 4800], "nice": false, "zero": false}, "axis": {"tickCount": 12}}, "color": {"datum": "Jelenleg", "type": "nominal", "scale": {"domain": ["Jelenleg", "Tározós erőművel"], "range": ["#185b97", "#b98fa0"]}, "legend": {"title": null}}}},
           {"mark": {"type": "line", "strokeWidth": 2.2}, "encoding": {"y": {"field": "t", "type": "quantitative", "title": "Teljesítményigény (MW)"}, "color": {"datum": "Tározós erőművel", "type": "nominal"}}}
          ]}
        ]}
      ], "spacing": 0},
     {"width": 1, "height": 34, "data": {"values": [{}]}, "mark": {"type": "rect", "opacity": 0}},
     {"hconcat": [
       {"width": 25, "height": 1, "data": {"values": [{}]}, "mark": {"type": "rect", "opacity": 0}},
       {"width": 860, "height": 34,
        "data": {"values": [{"i": 0, "s": "8/a. ÁBRA"}, {"i": 1, "s": "ÁTLAGOS IGÉNYLEFUTÁS VÁLTOZÁSA TÁROZÓS ERŐMŰ RENDSZERBE ILLESZTÉSE ESETÉN (I. FÉLÉV)"}]},
        "encoding": {"y": {"field": "i", "type": "ordinal", "axis": null}, "x": {"datum": 0, "type": "quantitative", "scale": {"domain": [0, 1]}, "axis": null}, "text": {"field": "s"}},
        "layer": [
         {"transform": [{"filter": "datum.i == 0"}], "mark": {"type": "text", "align": "left", "baseline": "middle", "fontSize": 12, "fontWeight": "bold", "color": "#1c6aa2"}},
         {"transform": [{"filter": "datum.i == 1"}], "mark": {"type": "text", "align": "left", "baseline": "middle", "fontSize": 10.5, "color": "#1f6a9f"}}
        ]}
      ], "spacing": 0}
    ], "spacing": 0},
   {"width": 1, "height": 1052, "data": {"values": [{}]}, "mark": {"type": "rect", "color": "#5f9cb5"}}
  ], "spacing": 0},
 {"hconcat": [
   {"width": 32, "height": 1, "data": {"values": [{}]}, "mark": {"type": "rect", "opacity": 0}},
   {"width": 918, "height": 1, "data": {"values": [{}]}, "mark": {"type": "rect", "color": "#5f9cb5"}}
  ], "spacing": 0},
 {"width": 1, "height": 51.5, "data": {"values": [{}]}, "mark": {"type": "rect", "opacity": 0}},
 {"hconcat": [
   {"width": 32, "height": 1, "data": {"values": [{}]}, "mark": {"type": "rect", "opacity": 0}},
   {"width": 303, "height": 277, "data": {"name": "body"}, "transform": [{"filter": "datum.c == 1"}],
    "encoding": {"y": {"field": "i", "type": "ordinal", "axis": null}, "x": {"datum": 0, "type": "quantitative", "scale": {"domain": [0, 1]}, "axis": null}, "text": {"field": "s"}},
    "layer": [
     {"transform": [{"filter": "datum.p == 0"}], "mark": {"type": "text", "align": "left", "baseline": "middle", "font": "Liberation Serif", "fontSize": 16.5, "color": "#231f20"}},
     {"transform": [{"filter": "datum.p == 1"}], "mark": {"type": "text", "align": "left", "baseline": "middle", "dx": 19, "font": "Liberation Serif", "fontSize": 16.5, "color": "#231f20"}}
    ]},
   {"width": 311, "height": 277,
    "layer": [
     {"data": {"values": [{}]}, "mark": {"type": "rule", "color": "#7cc0de", "strokeWidth": 1.2}, "encoding": {"x": {"datum": 0, "type": "quantitative", "scale": {"domain": [0, 1]}, "axis": null}}},
     {"data": {"name": "body"}, "transform": [{"filter": "datum.c == 2 && datum.p == 0"}],
      "mark": {"type": "text", "align": "left", "baseline": "middle", "dx": 10, "font": "Liberation Serif", "fontSize": 16.5, "color": "#231f20"},
      "encoding": {"y": {"field": "i", "type": "ordinal", "axis": null, "scale": {"domain": [0,1,2,3,4,5,6,7,8,9,10,11]}}, "x": {"datum": 0, "type": "quantitative"}, "text": {"field": "s"}}},
     {"data": {"name": "body"}, "transform": [{"filter": "datum.c == 2 && datum.p == 1"}],
      "mark": {"type": "text", "align": "left", "baseline": "middle", "dx": 29, "font": "Liberation Serif", "fontSize": 16.5, "color": "#231f20"},
      "encoding": {"y": {"field": "i", "type": "ordinal", "axis": null}, "x": {"datum": 0, "type": "quantitative"}, "text": {"field": "s"}}}
    ]},
   {"width": 304, "height": 277,
    "layer": [
     {"data": {"values": [{}]}, "mark": {"type": "rule", "color": "#7cc0de", "strokeWidth": 1.2}, "encoding": {"x": {"datum": 0, "type": "quantitative", "scale": {"domain": [0, 1]}, "axis": null}}},
     {"data": {"name": "body"}, "transform": [{"filter": "datum.c == 3 && datum.p == 0"}],
      "mark": {"type": "text", "align": "left", "baseline": "middle", "dx": 12, "font": "Liberation Serif", "fontSize": 16.5, "color": "#231f20"},
      "encoding": {"y": {"field": "i", "type": "ordinal", "axis": null, "scale": {"domain": [0,1,2,3,4,5,6,7,8,9,10,11]}}, "x": {"datum": 0, "type": "quantitative"}, "text": {"field": "s"}}},
     {"data": {"name": "body"}, "transform": [{"filter": "datum.c == 3 && datum.p == 1"}],
      "mark": {"type": "text", "align": "left", "baseline": "middle", "dx": 31, "font": "Liberation Serif", "fontSize": 16.5, "color": "#231f20"},
      "encoding": {"y": {"field": "i", "type": "ordinal", "axis": null}, "x": {"datum": 0, "type": "quantitative"}, "text": {"field": "s"}}}
    ]}
  ], "spacing": 0},
 {"width": 1, "height": 42.5, "data": {"values": [{}]}, "mark": {"type": "rect", "opacity": 0}},
 {"hconcat": [
   {"width": 32, "height": 30, "data": {"values": [{"s": "18"}]},
    "mark": {"type": "text", "align": "left", "baseline": "middle", "dy": 2, "fontSize": 26, "fontWeight": "bold", "color": "#f0922e"},
    "encoding": {"x": {"datum": 0, "type": "quantitative", "scale": {"domain": [0, 1]}, "axis": null}, "text": {"field": "s"}}},
   {"width": 918, "height": 30, "data": {"values": [{"s": "2007/1-2 ■ a magyar villamos művek közleményei"}]},
    "layer": [
     {"mark": {"type": "rect", "color": "#00a8d8"}},
     {"mark": {"type": "text", "align": "left", "baseline": "middle", "dx": 20, "font": "DejaVu Sans", "fontSize": 16, "fontWeight": "bold", "color": "#ffffff"},
      "encoding": {"x": {"datum": 0, "type": "quantitative", "scale": {"domain": [0, 1]}, "axis": null}, "text": {"field": "s"}}}
    ]}
  ], "spacing": 0}
]
}
